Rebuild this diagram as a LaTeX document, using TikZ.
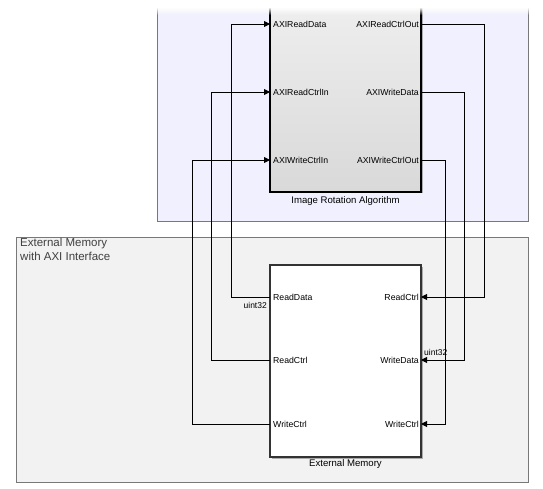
\documentclass[tikz,border=0pt]{standalone}
\usepackage{fontspec}
\setmainfont{Liberation Sans}
\usetikzlibrary{arrows.meta,shadows,fadings}

\definecolor{lavender}{RGB}{240,240,254}
\definecolor{memgray}{RGB}{242,242,242}
\definecolor{framegray}{RGB}{120,120,120}

\tikzset{
  region/.style={draw=framegray,line width=0.8pt},
  algblock/.style={draw=black,line width=1.8pt,top color=black!6,bottom color=black!15,
    drop shadow={shadow xshift=1.5pt,shadow yshift=-1.5pt,fill=black!60,opacity=.5}},
  memblock/.style={draw=black!80,line width=1.2pt,fill=white,
    drop shadow={shadow xshift=1.5pt,shadow yshift=-1.5pt,fill=black!60,opacity=.5}},
  portl/.style={anchor=west,inner sep=0pt,font=\fontsize{8.7}{10}\selectfont},
  portr/.style={anchor=east,inner sep=0pt,font=\fontsize{8.7}{10}\selectfont},
  blklabel/.style={inner sep=0pt,font=\fontsize{9.6}{11}\selectfont},
  sigtype/.style={inner sep=0pt,font=\fontsize{8.5}{10}\selectfont},
  wire/.style={draw=black,line width=0.9pt},
  inarrow/.style={wire,-{Triangle[length=6pt,width=6pt]}}
}

\begin{document}
\begin{tikzpicture}[x=1pt,y=-1pt]
\useasboundingbox (0,0) rectangle (543,489);
\clip (0,0) rectangle (543,489);

% subsystem areas
\fill[white] (0,0) rectangle (543,489);
\draw[region,fill=lavender] (157,-10) rectangle (528,221);
\draw[region,fill=memgray] (16,237) rectangle (528,482);
\node[anchor=north west,align=left,inner sep=0pt,text=black!75,
  font=\fontsize{11.5}{14}\selectfont] (memarea) at (20,238) {External Memory\\with AXI Interface};

% blocks
\node[algblock,minimum width=151pt,minimum height=202pt,inner sep=0pt] (alg) at (345.5,91) {};
\node[memblock,minimum width=151pt,minimum height=192pt,inner sep=0pt] (mem) at (345.5,361) {};
\node[blklabel] (alglabel) at (345.5,201) {Image Rotation Algorithm};
\node[blklabel] (memlabel) at (345.5,464) {External Memory};

% ports of the algorithm block
\coordinate (algRdData) at (270,24);
\coordinate (algRdCtrlIn) at (270,92);
\coordinate (algWrCtrlIn) at (270,160);
\coordinate (algRdCtrlOut) at (421,24);
\coordinate (algWrData) at (421,92);
\coordinate (algWrCtrlOut) at (421,160);
\node[portl] (pRdData) at (273,24) {AXIReadData};
\node[portl] (pRdCtrlIn) at (273,92) {AXIReadCtrlIn};
\node[portl] (pWrCtrlIn) at (273,160) {AXIWriteCtrlIn};
\node[portr] (pRdCtrlOut) at (419,24) {AXIReadCtrlOut};
\node[portr] (pWrData) at (419,92) {AXIWriteData};
\node[portr] (pWrCtrlOut) at (419,160) {AXIWriteCtrlOut};

% ports of the memory block
\coordinate (memRdData) at (270,297);
\coordinate (memRdCtrlL) at (270,360);
\coordinate (memWrCtrlL) at (270,424);
\coordinate (memRdCtrlR) at (421,297);
\coordinate (memWrData) at (421,360);
\coordinate (memWrCtrlR) at (421,424);
\node[portl] (qRdData) at (273,297) {ReadData};
\node[portl] (qRdCtrlL) at (273,360) {ReadCtrl};
\node[portl] (qWrCtrlL) at (273,424) {WriteCtrl};
\node[portr] (qRdCtrlR) at (419,297) {ReadCtrl};
\node[portr] (qWrData) at (419,360) {WriteData};
\node[portr] (qWrCtrlR) at (419,424) {WriteCtrl};

% signals
\draw[inarrow] (memRdData) -- ++(-39,0) |- (algRdData);
\draw[inarrow] (memRdCtrlL) -- ++(-59,0) |- (algRdCtrlIn);
\draw[inarrow] (memWrCtrlL) -- ++(-78,0) |- (algWrCtrlIn);
\draw[inarrow] (algRdCtrlOut) -- ++(63,0) |- (memRdCtrlR);
\draw[inarrow] (algWrData) -- ++(43,0) |- (memWrData);
\draw[inarrow] (algWrCtrlOut) -- ++(24,0) |- (memWrCtrlR);
\node[sigtype,anchor=east] (t1) at (267,305) {uint32};
\node[sigtype,anchor=west] (t2) at (424,352) {uint32};

% faded top edge
\fill[white] (150,-2) rectangle (543,8);
\fill[white,path fading=south] (150,7) rectangle (543,15);
\end{tikzpicture}
\end{document}
